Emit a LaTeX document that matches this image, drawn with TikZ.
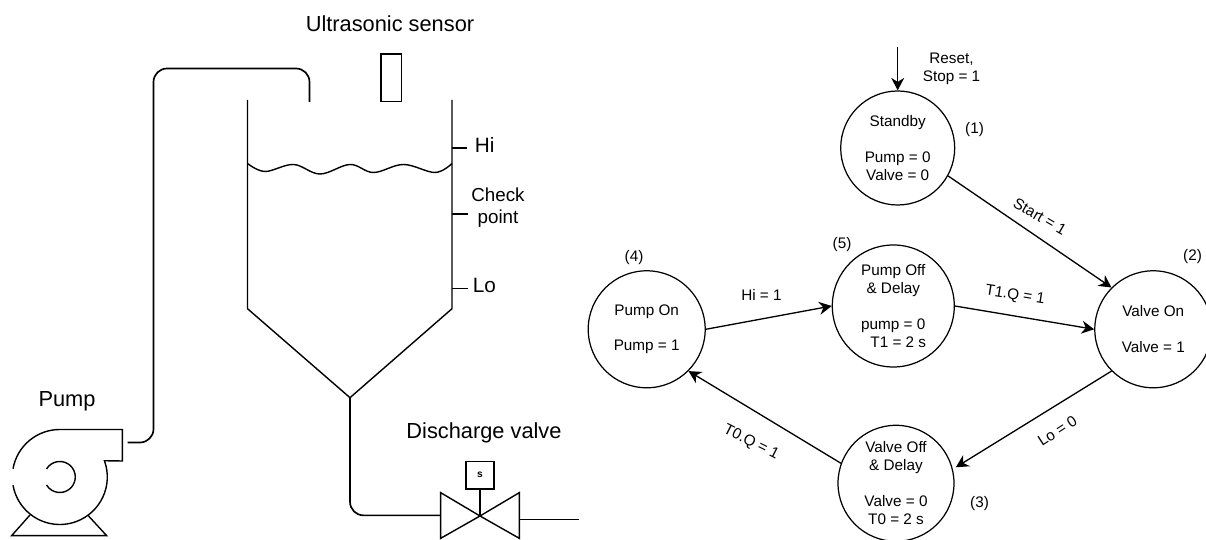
\documentclass[tikz,border=0pt]{standalone}
\usepackage{fontspec}
\setmainfont{Liberation Sans}
\usetikzlibrary{shapes.geometric, arrows.meta, positioning, calc}

\begin{document}
\begin{tikzpicture}[
  state/.style={draw, circle, inner sep=0pt, align=center, line width=0.7pt,
               font=\fontsize{8.7}{10.2}\selectfont},
  arr/.style={-{Stealth[length=2.5mm,width=2.6mm]}, line width=0.75pt},
  lbl/.style={inner sep=0pt, align=center, font=\fontsize{8.7}{10.2}\selectfont},
  biglbl/.style={inner sep=0pt, align=center, font=\fontsize{12.4}{12.8}\selectfont},
  pipe/.style={line width=0.95pt, rounded corners=0.27cm},
  tank/.style={line width=0.8pt, line join=miter},
]
  \path[use as bounding box, clip] (0,0) rectangle (24.12,10.8);

  % Tank and level marks
  \draw[tank] (4.95,8.8) -- (4.95,4.626) -- (7.0,2.846) -- (9.04,4.626) -- (9.04,8.8);
  \draw[tank] plot[smooth, tension=0.6] coordinates {(4.95,7.53) (5.30,7.37) (5.87,7.51)
    (6.40,7.32) (7.00,7.51) (7.47,7.35) (8.07,7.51) (8.70,7.35) (9.04,7.53)};
  \draw[tank] (9.04,7.84) -- (9.34,7.84);
  \draw[tank] (9.04,6.52) -- (9.36,6.52);
  \draw[tank] (9.04,5.03) -- (9.36,5.03);
  \node[biglbl, anchor=west, font=\fontsize{11.8}{12.8}\selectfont] (hi) at (9.49, 7.9) {Hi};
  \node[biglbl, font=\fontsize{10.7}{12.6}\selectfont] (check) at (9.96, 6.64) {Check\\point};
  \node[biglbl, anchor=west, font=\fontsize{11.8}{12.8}\selectfont] (lo) at (9.45, 5.1) {Lo};

  % Sensor
  \node[draw, line width=0.7pt, minimum width=0.41cm, minimum height=0.95cm] (sensor) at (7.825, 9.245) {};
  \node[biglbl] (sensorlbl) at (7.8, 10.32) {Ultrasonic sensor};

  % Pump
  \coordinate (pumpc) at (1.196, 1.26);
  \draw[line width=0.8pt] ([shift={(170:0.95)}]pumpc) arc[start angle=170, end angle=90, radius=0.95]
    -- (2.447,2.21) -- (2.447,1.58) -- ([shift={(20:0.95)}]pumpc)
    arc[start angle=20, end angle=-170, radius=0.95];
  \draw[line width=0.8pt] ([shift={(149:0.31)}]pumpc) arc[start angle=149, end angle=-149, radius=0.31];
  \draw[line width=0.8pt] (0.6,0.5) -- (0.233,0.087) -- (2.133,0.087) -- (1.753,0.5);
  \node[biglbl] (pumplbl) at (1.34, 2.77) {Pump};

  % Pipes
  \coordinate (pumpout) at (2.55, 1.95);
  \coordinate (tankin) at (6.19, 8.76);
  \coordinate (apex) at (7.0, 2.846);
  \coordinate (valvein) at (8.813, 0.493);
  \coordinate (valveout) at (10.387, 0.413);
  \coordinate (pipeend) at (11.573, 0.413);
  \draw[pipe] (pumpout) -- (3.07,1.95) -- (3.07,9.43) -- (6.19,9.43) -- (tankin);
  \draw[pipe] (apex) -- (7.0,0.493) -- (valvein);
  \draw[pipe] (valveout) -- (pipeend);

  % Discharge valve
  \coordinate (valvec) at (9.6, 0.48);
  \draw[line width=0.8pt] (valvec) -- (8.813,0.947) -- (8.813,0.033) -- cycle;
  \draw[line width=0.8pt] (valvec) -- (10.387,0.947) -- (10.387,0.033) -- cycle;
  \node[draw, line width=0.8pt, inner sep=0pt, minimum width=0.56cm, minimum height=0.555cm,
        font=\fontsize{5.8}{7}\selectfont\bfseries] (actuator) at (9.6, 1.297) {s};
  \draw[line width=0.8pt] (actuator) -- (valvec);
  \node[biglbl] (valvelbl) at (9.68, 2.15) {Discharge valve};

  % States
  \node[state, minimum size=2.28cm] (standby) at (17.954, 7.84) {Standby\\[10.2pt]Pump = 0\\Valve = 0};
  \node[state, minimum size=2.34cm] (valveon) at (23.066, 4.214) {Valve On\\[10.2pt]Valve = 1};
  \node[state, minimum size=2.32cm] (valveoff) at (17.92, 1.134) {Valve Off\\\& Delay\\[10.2pt]Valve = 0\\T0 = 2 s};
  \node[state, minimum size=2.34cm] (pumpon) at (12.934, 4.214) {Pump On\\[10.2pt]Pump = 1};
  \node[state, minimum size=2.44cm] (pumpoff) at (17.866, 4.68) {Pump Off\\\& Delay\\[10.2pt]pump = 0\\\hspace*{5.7pt}T1 = 2 s};

  \coordinate (resetin) at (17.954, 9.854);
  \draw[arr] (resetin) -- (standby.north);
  \draw[arr] (standby.-29) -- (valveon.135);
  \draw[arr] (pumpoff.east) -- (valveon.west);
  \draw[arr, shorten >=2pt] (valveon.225) -- (valveoff.14);
  \draw[arr] (pumpon.east) -- (pumpoff.west);
  \draw[arr] (valveoff.160) -- (pumpon.-45);

  % State numbers
  \node[lbl] (n1) at (19.49, 8.21) {(1)};
  \node[lbl] (n2) at (23.85, 5.67) {(2)};
  \node[lbl] (n3) at (19.59, 0.73) {(3)};
  \node[lbl] (n4) at (12.68, 5.65) {(4)};
  \node[lbl] (n5) at (16.84, 5.9) {(5)};

  % Transition labels
  \node[lbl] (reset) at (19.03, 9.43) {Reset,\\Stop = 1};
  \node[lbl, rotate=-30] (start) at (20.8, 6.467) {Start = 1};
  \node[lbl] (hieq) at (15.23, 4.9) {Hi = 1};
  \node[lbl, rotate=-9] (t1q) at (20.3, 4.886) {T1.Q = 1};
  \node[lbl, rotate=33] (loeq) at (21.147, 2.186) {Lo = 0};
  \node[lbl, rotate=-27] (t0q) at (15.02, 1.946) {T0.Q = 1};
\end{tikzpicture}
\end{document}
